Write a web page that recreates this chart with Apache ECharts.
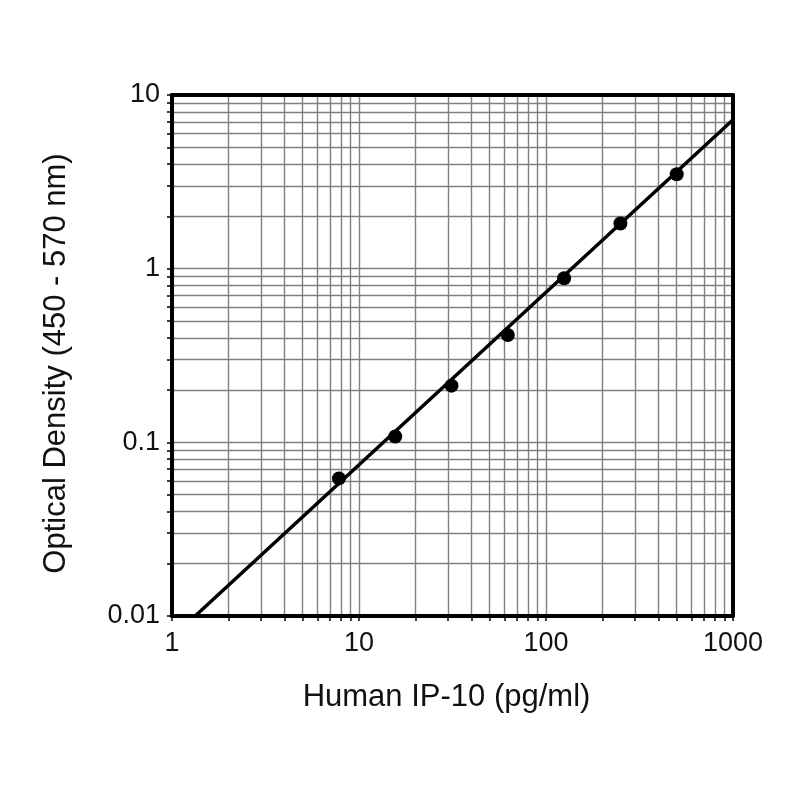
<!DOCTYPE html>
<html><head><meta charset="utf-8">
<script src="https://cdn.jsdelivr.net/npm/echarts@6/dist/echarts.min.js"></script>
<style>html,body{margin:0;padding:0;background:#fff}#c{width:800px;height:800px}</style>
</head><body><div id="c"></div>
<script>
const concX = [7.8125, 15.625, 31.25, 62.5, 125, 250, 500];
const odY = [0.062, 0.108, 0.212, 0.415, 0.88, 1.82, 3.5];
const fitX = [1.33, 1000];
const fitY = [0.01, 7.2];
const xMajor = [1, 10, 100, 1000];
const yMajor = [0.01, 0.1, 1, 10];
const xGrid = [1,2,3,4,5,6,7,8,9,10,20,30,40,50,60,70,80,90,100,200,300,400,500,600,700,800,900,1000];
const yGrid = [0.01,0.02,0.03,0.04,0.05,0.06,0.07,0.08,0.09,0.1,0.2,0.3,0.4,0.5,0.6,0.7,0.8,0.9,1,2,3,4,5,6,7,8,9,10];

const font = 'Liberation Sans, Arial, sans-serif';
const chart = echarts.init(document.getElementById('c'));
const gridLine = {show: true, showMinLine: false, showMaxLine: false, lineStyle: {color: '#808080', width: 1.4}};
chart.setOption({
  animation: false,
  grid: {left: 172, right: 67, top: 95, bottom: 184},
  xAxis: [{
    type: 'log', logBase: 10, min: 1, max: 1000, position: 'bottom',
    name: 'Human IP-10 (pg/ml)', nameLocation: 'middle', nameGap: 66,
    nameTextStyle: {fontFamily: font, fontSize: 31, color: '#111', padding: [0, 12, 0, 0]},
    axisLine: {show: true, lineStyle: {color: '#000', width: 4}},
    axisTick: {show: true, customValues: xGrid, length: 5, lineStyle: {color: '#000', width: 1.5}},
    axisLabel: {customValues: xMajor, fontFamily: font, fontSize: 27, color: '#111', margin: 14,
      formatter: v => String(v)},
    splitLine: gridLine
  }, {
    type: 'log', logBase: 10, min: 1, max: 1000, position: 'top',
    axisLine: {show: true, lineStyle: {color: '#000', width: 4}},
    axisTick: {show: false}, axisLabel: {show: false}, splitLine: {show: false}
  }],
  yAxis: [{
    type: 'log', logBase: 10, min: 0.01, max: 10, position: 'left',
    name: 'Optical Density (450 - 570 nm)', nameLocation: 'middle', nameGap: 100,
    nameTextStyle: {fontFamily: font, fontSize: 31, color: '#111', padding: [0, 16, 0, 0]},
    axisLine: {show: true, lineStyle: {color: '#000', width: 4}},
    axisTick: {show: true, customValues: yGrid, length: 5, lineStyle: {color: '#000', width: 1.5}},
    axisLabel: {customValues: yMajor, fontFamily: font, fontSize: 27, color: '#111', margin: 12,
      formatter: v => String(v)},
    splitLine: gridLine
  }, {
    type: 'log', logBase: 10, min: 0.01, max: 10, position: 'right',
    axisLine: {show: true, lineStyle: {color: '#000', width: 4}},
    axisTick: {show: false}, axisLabel: {show: false}, splitLine: {show: false}
  }],
  series: [{
    type: 'line', data: fitX.map((x, i) => [x, fitY[i]]),
    showSymbol: false, symbol: 'none', lineStyle: {color: '#000', width: 3.5}, z: 3, silent: true
  }, {
    type: 'scatter', data: concX.map((x, i) => [x, odY[i]]),
    symbol: 'circle', symbolSize: 14, itemStyle: {color: '#000', opacity: 1}, z: 4, silent: true
  }]
});
</script></body></html>
